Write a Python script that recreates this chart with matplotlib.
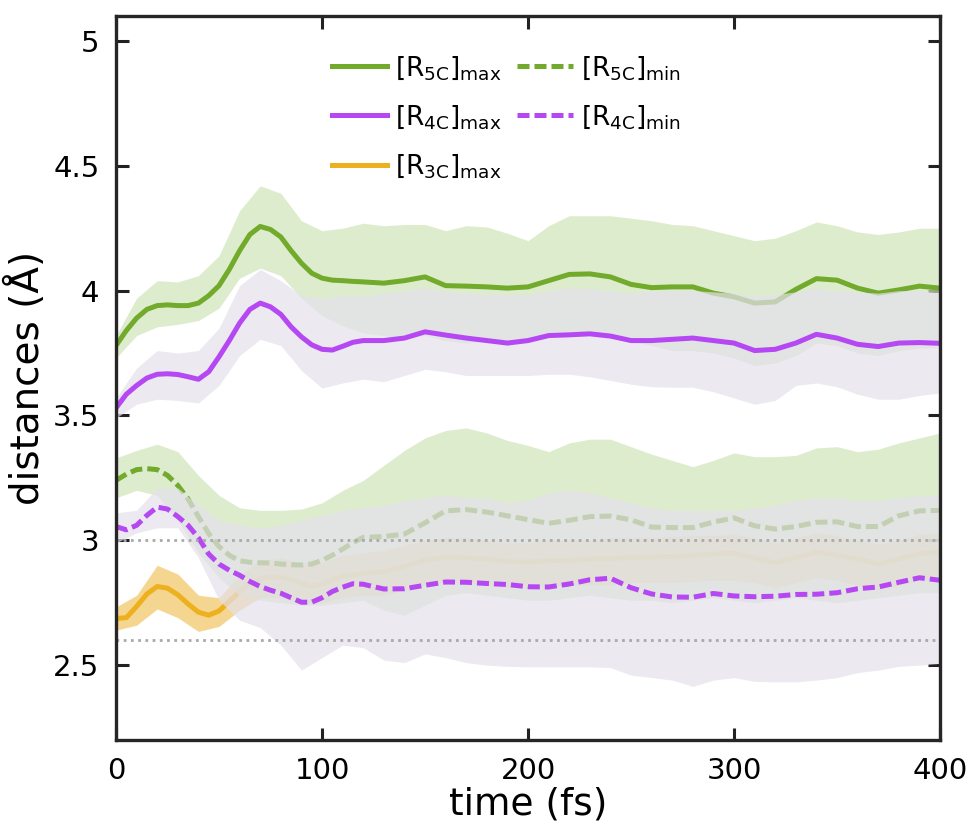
import numpy as np
import matplotlib
matplotlib.use("Agg")
import matplotlib.pyplot as plt

# ---------------- data ----------------
# time grid for the uncertainty bands
band_time = list(range(0, 401, 10))
# time grid for the mean lines (finer at early times)
line_time = list(range(0, 121, 5)) + list(range(130, 401, 10))

r5c_max = [3.78, 3.84, 3.89, 3.925, 3.94, 3.943, 3.94, 3.94, 3.95, 3.98, 4.02,
           4.085, 4.16, 4.225, 4.257, 4.245, 4.215, 4.16, 4.11, 4.07, 4.05,
           4.042, 4.04, 4.037, 4.035,
           4.03, 4.04, 4.055, 4.02, 4.018, 4.015, 4.01, 4.015,
           4.04, 4.065, 4.067, 4.055, 4.025, 4.012, 4.015, 4.015, 3.99, 3.975,
           3.95, 3.955, 4.005, 4.048, 4.042, 4.01, 3.99, 4.003, 4.018, 4.01]
r5c_max_hi = [3.82, 3.97, 4.04, 4.035, 4.06, 4.14, 4.32, 4.42, 4.39, 4.28, 4.24,
              4.25, 4.27, 4.26, 4.265, 4.265, 4.24, 4.26, 4.255, 4.23, 4.20,
              4.26, 4.30, 4.30, 4.30, 4.29, 4.28, 4.265, 4.26, 4.24, 4.22,
              4.20, 4.21, 4.24, 4.275, 4.26, 4.235, 4.225, 4.235, 4.25, 4.25]
r5c_max_lo = [3.73, 3.82, 3.855, 3.865, 3.88, 3.93, 4.05, 4.09, 4.06, 3.97, 3.90,
              3.86, 3.83, 3.82, 3.81, 3.82, 3.80, 3.79, 3.80, 3.78, 3.80,
              3.83, 3.83, 3.84, 3.82, 3.80, 3.78, 3.76, 3.76, 3.75, 3.73,
              3.70, 3.71, 3.74, 3.79, 3.78, 3.75, 3.74, 3.76, 3.77, 3.77]

r4c_max = [3.53, 3.585, 3.62, 3.65, 3.665, 3.667, 3.664, 3.655, 3.645, 3.675, 3.735,
           3.80, 3.87, 3.925, 3.95, 3.935, 3.905, 3.855, 3.815, 3.783, 3.765,
           3.762, 3.777, 3.793, 3.80,
           3.80, 3.81, 3.835, 3.822, 3.81, 3.80, 3.79, 3.80,
           3.82, 3.823, 3.827, 3.818, 3.80, 3.80, 3.805, 3.81, 3.80, 3.79,
           3.76, 3.765, 3.79, 3.825, 3.81, 3.785, 3.776, 3.79, 3.792, 3.789]
r4c_max_hi = [3.57, 3.69, 3.76, 3.75, 3.76, 3.85, 4.02, 4.085, 4.04, 3.98, 3.97,
              3.98, 3.98, 3.99, 4.0, 4.01, 4.0, 3.99, 3.985, 3.985, 3.985,
              4.0, 4.01, 4.01, 4.0, 3.99, 4.0, 4.0, 4.0, 3.995, 3.99,
              3.98, 3.985, 3.995, 4.01, 4.0, 3.995, 3.99, 4.0, 4.0, 3.99]
r4c_max_lo = [3.49, 3.545, 3.565, 3.56, 3.55, 3.62, 3.74, 3.805, 3.78, 3.68, 3.61,
              3.63, 3.645, 3.635, 3.66, 3.685, 3.675, 3.66, 3.66, 3.66, 3.66,
              3.665, 3.665, 3.655, 3.64, 3.625, 3.615, 3.613, 3.613, 3.595, 3.57,
              3.545, 3.56, 3.62, 3.63, 3.615, 3.585, 3.565, 3.565, 3.58, 3.59]

r3c_max = [2.687, 2.69, 2.735, 2.785, 2.815, 2.808, 2.782, 2.745, 2.712, 2.70, 2.717,
           2.755, 2.795, 2.827, 2.845, 2.853, 2.852, 2.843, 2.827, 2.815, 2.825,
           2.842, 2.855, 2.862, 2.867,
           2.875, 2.895, 2.92, 2.933, 2.93, 2.925, 2.915, 2.913,
           2.918, 2.92, 2.925, 2.927, 2.93, 2.933, 2.935, 2.94, 2.945, 2.948,
           2.93, 2.91, 2.93, 2.952, 2.94, 2.925, 2.905, 2.925, 2.947, 2.953]
r3c_max_hi = [2.733, 2.78, 2.90, 2.865, 2.78, 2.77, 2.86, 2.92, 2.93, 2.91, 2.91,
              2.94, 2.95, 2.96, 2.98, 3.0, 3.01, 3.01, 3.0, 2.99, 2.99,
              3.0, 3.0, 3.0, 3.01, 3.01, 3.01, 3.015, 3.02, 3.02, 3.025,
              3.01, 2.99, 3.01, 3.03, 3.02, 3.0, 2.985, 3.0, 3.025, 3.03]
r3c_max_lo = [2.64, 2.66, 2.725, 2.69, 2.635, 2.655, 2.72, 2.77, 2.77, 2.745, 2.75,
              2.77, 2.78, 2.78, 2.80, 2.82, 2.83, 2.83, 2.82, 2.81, 2.81,
              2.815, 2.82, 2.82, 2.82, 2.83, 2.83, 2.83, 2.835, 2.84, 2.84,
              2.83, 2.81, 2.83, 2.85, 2.84, 2.82, 2.80, 2.82, 2.84, 2.85]

r5c_min = [3.24, 3.265, 3.283, 3.287, 3.283, 3.26, 3.22, 3.165, 3.095, 3.027, 2.975,
           2.94, 2.918, 2.912, 2.91, 2.909, 2.905, 2.902, 2.901, 2.905, 2.92,
           2.94, 2.965, 2.99, 3.012,
           3.015, 3.025, 3.07, 3.118, 3.123, 3.113, 3.098, 3.083,
           3.068, 3.08, 3.095, 3.097, 3.082, 3.053, 3.051, 3.051, 3.073, 3.09,
           3.058, 3.045, 3.055, 3.072, 3.074, 3.055, 3.055, 3.098, 3.118, 3.12]
r5c_min_hi = [3.33, 3.36, 3.385, 3.355, 3.26, 3.18, 3.13, 3.12, 3.12, 3.125, 3.15,
              3.20, 3.24, 3.30, 3.36, 3.41, 3.44, 3.45, 3.43, 3.40, 3.38,
              3.355, 3.39, 3.405, 3.405, 3.375, 3.345, 3.32, 3.295, 3.32, 3.35,
              3.335, 3.335, 3.34, 3.37, 3.375, 3.355, 3.365, 3.39, 3.41, 3.43]
r5c_min_lo = [3.17, 3.20, 3.18, 3.08, 2.95, 2.85, 2.78, 2.76, 2.75, 2.74, 2.74,
              2.75, 2.76, 2.72, 2.70, 2.74, 2.78, 2.79, 2.78, 2.77, 2.76,
              2.76, 2.77, 2.78, 2.77, 2.76, 2.76, 2.75, 2.76, 2.77, 2.76,
              2.75, 2.76, 2.77, 2.76, 2.75, 2.76, 2.77, 2.78, 2.79, 2.79]

r4c_min = [3.055, 3.042, 3.06, 3.10, 3.133, 3.125, 3.095, 3.06, 3.01, 2.945, 2.905,
           2.88, 2.86, 2.835, 2.815, 2.80, 2.788, 2.77, 2.752, 2.752, 2.77,
           2.795, 2.812, 2.826, 2.824,
           2.805, 2.806, 2.82, 2.833, 2.832, 2.827, 2.823, 2.814,
           2.813, 2.825, 2.842, 2.848, 2.81, 2.785, 2.773, 2.772, 2.787, 2.777,
           2.774, 2.776, 2.783, 2.784, 2.79, 2.806, 2.813, 2.832, 2.85, 2.84]
r4c_min_hi = [3.11, 3.12, 3.21, 3.21, 3.14, 3.08, 3.06, 3.05, 3.06, 3.08, 3.10,
              3.12, 3.13, 3.14, 3.16, 3.17, 3.18, 3.17, 3.17, 3.15, 3.16,
              3.19, 3.20, 3.19, 3.17, 3.15, 3.13, 3.12, 3.12, 3.12, 3.12,
              3.13, 3.14, 3.16, 3.17, 3.17, 3.16, 3.16, 3.17, 3.18, 3.18]
r4c_min_lo = [2.99, 3.03, 3.05, 3.05, 2.93, 2.76, 2.68, 2.65, 2.58, 2.48, 2.53,
              2.58, 2.57, 2.52, 2.51, 2.545, 2.53, 2.51, 2.50, 2.495, 2.493,
              2.493, 2.493, 2.493, 2.49, 2.46, 2.45, 2.44, 2.415, 2.44, 2.45,
              2.435, 2.433, 2.433, 2.44, 2.45, 2.47, 2.48, 2.495, 2.50, 2.507]

ref_levels = [3.0, 2.6]
x_ticks = [0, 100, 200, 300, 400]
y_ticks = [2.5, 3.0, 3.5, 4.0, 4.5, 5.0]
y_tick_labels = ["2.5", "3", "3.5", "4", "4.5", "5"]

labels = {
    "r5c_max": r"$[\mathrm{R}_{\mathrm{5C}}]_{\mathrm{max}}$",
    "r4c_max": r"$[\mathrm{R}_{\mathrm{4C}}]_{\mathrm{max}}$",
    "r3c_max": r"$[\mathrm{R}_{\mathrm{3C}}]_{\mathrm{max}}$",
    "r5c_min": r"$[\mathrm{R}_{\mathrm{5C}}]_{\mathrm{min}}$",
    "r4c_min": r"$[\mathrm{R}_{\mathrm{4C}}]_{\mathrm{min}}$",
}

# ---------------- style ----------------
GREEN = "#72AA2C"
PURPLE = "#B548F2"
ORANGE = "#EDB120"
GREEN_BAND = "#D0E4BA"
PURPLE_BAND = "#E5E0EC"
ORANGE_BAND = "#F2C563"
BAND_ALPHA = 0.7

plt.rcParams["font.family"] = ["DejaVu Sans"]
plt.rcParams["mathtext.fontset"] = "dejavusans"
plt.rcParams["mathtext.default"] = "regular"

fig = plt.figure(figsize=(9.70, 8.33), dpi=100)
ax = fig.add_axes([0.1196, 0.1116, 0.8495, 0.8692])

tb = np.array(band_time)
tl = np.array(line_time)
lw = 3.6
dash = (0, (2.4, 1.0))

# drawing order: each series band then line (later bands cover earlier lines)
ax.fill_between(tb, r3c_max_lo, r3c_max_hi, color=ORANGE_BAND, alpha=BAND_ALPHA, lw=0, zorder=1)
h_o, = ax.plot(tl, r3c_max, color=ORANGE, lw=lw, zorder=2)

ax.fill_between(tb, r5c_max_lo, r5c_max_hi, color=GREEN_BAND, alpha=BAND_ALPHA, lw=0, zorder=3)
h_gM, = ax.plot(tl, r5c_max, color=GREEN, lw=lw, zorder=4)

ax.fill_between(tb, r5c_min_lo, r5c_min_hi, color=GREEN_BAND, alpha=BAND_ALPHA, lw=0, zorder=5)
h_gm, = ax.plot(tl, r5c_min, color=GREEN, lw=lw, ls=dash, zorder=6)

ax.fill_between(tb, r4c_max_lo, r4c_max_hi, color=PURPLE_BAND, alpha=BAND_ALPHA, lw=0, zorder=7)
h_pM, = ax.plot(tl, r4c_max, color=PURPLE, lw=lw, zorder=8)

ax.fill_between(tb, r4c_min_lo, r4c_min_hi, color=PURPLE_BAND, alpha=BAND_ALPHA, lw=0, zorder=9)
h_pm, = ax.plot(tl, r4c_min, color=PURPLE, lw=lw, ls=dash, zorder=10)

for lev in ref_levels:
    ax.axhline(lev, color="#A9A9A9", lw=2.0, ls=(0, (1.0, 1.6)), zorder=11)

ax.set_xlim(0, 400)
ax.set_ylim(2.2, 5.1)
ax.set_xticks(x_ticks)
ax.set_yticks(y_ticks)
ax.set_yticklabels(y_tick_labels)
ax.tick_params(direction="in", length=9, width=2.2, labelsize=21, color="#222222",
               top=True, right=True, pad=12)
for sp in ax.spines.values():
    sp.set_linewidth(2.4)
    sp.set_color("#262626")
    sp.set_zorder(20)

ax.set_xlabel("time (fs)", fontsize=27, labelpad=1)
ax.set_ylabel("distances (Å)", fontsize=28, labelpad=4)

leg = ax.legend([h_gM, h_pM, h_o, h_gm, h_pm],
                [labels["r5c_max"], labels["r4c_max"], labels["r3c_max"],
                 labels["r5c_min"], labels["r4c_min"]],
                ncol=2, loc="upper left", bbox_to_anchor=(0.249, 0.962),
                frameon=False, fontsize=19, handlelength=2.1, handletextpad=0.3,
                columnspacing=0.6, labelspacing=0.8, borderaxespad=0)
leg.set_zorder(30)

fig.savefig("out.png", dpi=100)
